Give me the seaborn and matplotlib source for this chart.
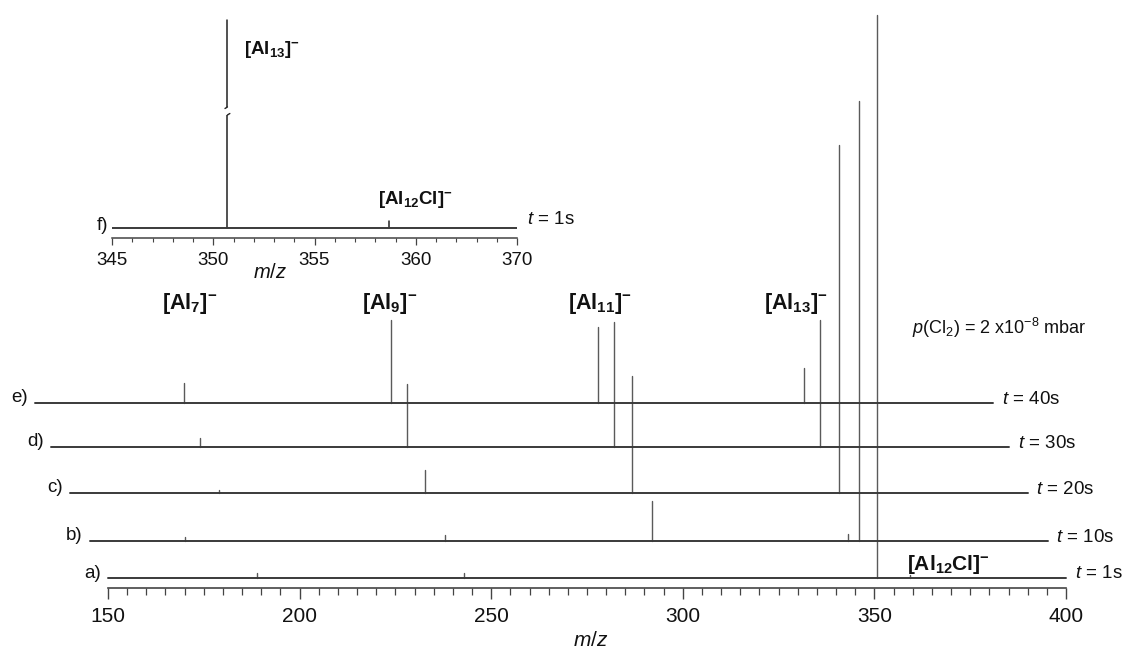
import matplotlib
matplotlib.use("Agg")
import matplotlib.pyplot as plt
import numpy as np
import pandas as pd
import seaborn as sns

# ---------------- data ----------------
trace_labels = ["a)", "b)", "c)", "d)", "e)"]
time_labels = ["1s", "10s", "20s", "30s", "40s"]
mz_start = 150
mz_end = 400
trace_shift = [0.0, 4.8, 10.0, 14.8, 19.0]      # m/z shift of each trace (waterfall)
trace_offset = [10, 47, 95, 141, 185]           # vertical offset of each trace

a_mz = [188.9, 242.8, 350.7, 359.2]
a_int = [5, 5, 563, 3]
b_mz = [175.0, 242.8, 296.8, 347.8, 350.7]
b_int = [4, 6, 40, 7, 440]
c_mz = [188.9, 242.8, 296.8, 350.7]
c_int = [3, 23, 117, 348]
d_mz = [188.9, 242.8, 296.8, 350.7]
d_int = [9, 63, 125, 127]
e_mz = [188.9, 242.8, 296.8, 350.7]
e_int = [20, 83, 76, 35]

main_ticks = [150, 200, 250, 300, 350, 400]
cluster_names = [r"$\mathbf{[Al_{7}]^{-}}$", r"$\mathbf{[Al_{9}]^{-}}$",
                 r"$\mathbf{[Al_{11}]^{-}}$", r"$\mathbf{[Al_{13}]^{-}}$"]

# inset f)
f_start = 345
f_end = 365
f_mz = [350.7, 358.7]
f_int = [208, 7]
f_ticks = [345, 350, 355, 360, 365]
f_tick_labels = ["345", "350", "355", "360", "370"]

# ---------------- style ----------------
sns.set_theme(style="ticks")
plt.rcParams["font.family"] = ["Liberation Sans", "DejaVu Sans"]
plt.rcParams["mathtext.fontset"] = "custom"
plt.rcParams["mathtext.rm"] = "Liberation Sans"
plt.rcParams["mathtext.it"] = "Liberation Sans:italic"
plt.rcParams["mathtext.bf"] = "Liberation Sans:bold"

W, H = 1122, 655
fig = plt.figure(figsize=(W / 100, H / 100), dpi=100)
fig.patch.set_facecolor("white")

# main axes: spine at 588 px from top, full width
ax = fig.add_axes([0, (H - 588) / H, 1, 588 / H])
px_per_unit = (1066 - 108) / 250.0
x_left = 150 - 108 / px_per_unit
x_right = 400 + (W - 1066) / px_per_unit
ax.set_xlim(x_left, x_right)
ax.set_ylim(0, 588)

peaks_mz = [a_mz, b_mz, c_mz, d_mz, e_mz]
peaks_int = [a_int, b_int, c_int, d_int, e_int]

base_rows, peak_rows = [], []
for lab, sh, off, pm, pi in zip(trace_labels, trace_shift, trace_offset, peaks_mz, peaks_int):
    base_rows.append((lab, mz_start - sh, off))
    base_rows.append((lab, mz_end - sh, off))
    for k, (m, h) in enumerate(zip(pm, pi)):
        pid = f"{lab}{k}"
        peak_rows.append((pid, m - sh, off))
        peak_rows.append((pid, m - sh, off + h))
df_base = pd.DataFrame(base_rows, columns=["trace", "x", "y"])
df_peak = pd.DataFrame(peak_rows, columns=["pid", "x", "y"])

sns.lineplot(data=df_peak, x="x", y="y", units="pid", estimator=None, sort=False,
             color="#5a5a5a", linewidth=1.0, ax=ax, legend=False)
sns.lineplot(data=df_base, x="x", y="y", units="trace", estimator=None, sort=False,
             color="#3a3a3a", linewidth=1.4, ax=ax, legend=False)

# trace labels
for lab, t, sh, off in zip(trace_labels, time_labels, trace_shift, trace_offset):
    ax.text(mz_start - sh - 1.9, off + 5, lab, ha="right", va="center", fontsize=13.5, color="#111")
    ax.text(mz_end - sh + 2.3, off + 4, r"$t$ = " + t, ha="left", va="center", fontsize=13.5, color="#111")

# cluster labels on top
label_x = [171.4, 223.6, 278.4, 329.5]
for name, lx in zip(cluster_names, label_x):
    ax.text(lx, 285, name, ha="center", va="center", fontsize=15.5, color="#111")
ax.text(359.8, 260, r"$p$(Cl$_2$) = 2 x10$^{-8}$ mbar", ha="left", va="center", fontsize=13, color="#111")
ax.text(369.2, 23, r"$\mathbf{[Al_{12}Cl]^{-}}$", ha="center", va="center", fontsize=15, color="#111")

for s in ["left", "top", "right"]:
    ax.spines[s].set_visible(False)
ax.spines["bottom"].set_bounds(150, 400)
ax.spines["bottom"].set_color("#444")
ax.spines["bottom"].set_linewidth(1.2)
ax.set_xticks(main_ticks)
ax.set_xticklabels([str(v) for v in main_ticks])
ax.set_xticks(np.arange(155, 400, 5), minor=True)
ax.tick_params(axis="x", which="major", direction="out", length=8, width=1.0,
               color="#444", pad=6, labelsize=15, labelcolor="#111", bottom=True)
ax.tick_params(axis="x", which="minor", direction="out", length=5, width=0.9,
               color="#444", bottom=True)
ax.set_yticks([])
ax.set_ylabel("")
ax.set_xlabel(r"$m/z$", fontsize=15, color="#111")
ax.xaxis.set_label_coords(591 / W, -(641 - 588) / 588)
ax.xaxis.label.set_va("center")
ax.set_facecolor("white")

# ---------------- inset f) ----------------
ax_in = fig.add_axes([112 / W, (H - 238) / H, 405 / W, 223 / H])
ax_in.set_xlim(f_start, f_end)
ax_in.set_ylim(0, 223)
ax_in.set_facecolor("none")
f_off = 10
df_fb = pd.DataFrame({"x": [f_start, f_end], "y": [f_off, f_off]})
frows = []
for k, (m, h) in enumerate(zip(f_mz, f_int)):
    frows.append((k, m, f_off))
    frows.append((k, m, f_off + h))
df_fp = pd.DataFrame(frows, columns=["pid", "x", "y"])
sns.lineplot(data=df_fp, x="x", y="y", units="pid", estimator=None, sort=False,
             color="#222222", linewidth=1.1, ax=ax_in, legend=False)
sns.lineplot(data=df_fb, x="x", y="y", estimator=None, sort=False,
             color="#3a3a3a", linewidth=1.4, ax=ax_in, legend=False)
# axis break on the truncated [Al13]- peak
xb = f_mz[0]
ax_in.plot([xb, xb], [123, 131], color="white", linewidth=4, solid_capstyle="butt", zorder=5)
ax_in.plot([xb, xb - 0.12], [131, 129.5], color="#222", linewidth=1.0, zorder=6)
ax_in.plot([xb, xb + 0.12], [123, 124.5], color="#222", linewidth=1.0, zorder=6)

ax_in.text(352.9, 188, r"$\mathbf{[Al_{13}]^{-}}$", ha="center", va="center", fontsize=13.5, color="#111")
ax_in.text(360.0, 38, r"$\mathbf{[Al_{12}Cl]^{-}}$", ha="center", va="center", fontsize=13.5, color="#111")
ax_in.text(344.8, 13, "f)", ha="right", va="center", fontsize=13.5, color="#111")
ax_in.text(365.5, 18, r"$t$ = 1s", ha="left", va="center", fontsize=13.5, color="#111")

for s in ["left", "top", "right"]:
    ax_in.spines[s].set_visible(False)
ax_in.spines["bottom"].set_color("#444")
ax_in.spines["bottom"].set_linewidth(1.1)
ax_in.set_xticks(f_ticks)
ax_in.set_xticklabels(f_tick_labels)
ax_in.set_xticks(np.arange(346, 365, 1), minor=True)
ax_in.tick_params(axis="x", which="major", direction="out", length=5, width=0.9,
                  color="#444", pad=5, labelsize=13.5, labelcolor="#111", bottom=True)
ax_in.tick_params(axis="x", which="minor", direction="out", length=3, width=0.8,
                  color="#444", bottom=True)
ax_in.set_yticks([])
ax_in.set_ylabel("")
ax_in.set_xlabel(r"$m/z$", fontsize=14.5, color="#111")
ax_in.xaxis.set_label_coords((270 - 112) / 405, -(273 - 238) / 223)
ax_in.xaxis.label.set_va("center")

fig.savefig("out.png", dpi=100, facecolor="white")
